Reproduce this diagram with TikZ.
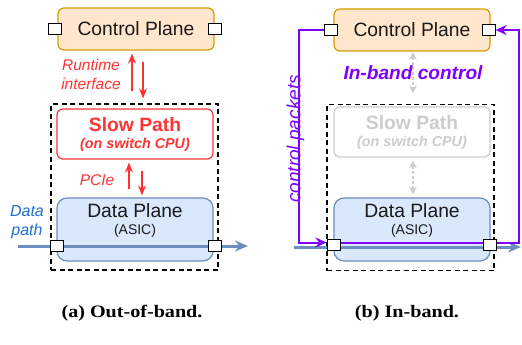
\documentclass[tikz,border=0pt]{standalone}
\usepackage{fontspec}
\setmainfont{Liberation Sans}
\newfontfamily\capfont[FakeStretch=1.15]{Liberation Serif}
\usetikzlibrary{arrows.meta,calc}

\definecolor{cpfill}{HTML}{FFE6CC}
\definecolor{cpline}{HTML}{D79B00}
\definecolor{slowred}{HTML}{FF3333}
\definecolor{dpfill}{HTML}{DAE8FC}
\definecolor{dpline}{HTML}{6C8EBF}
\definecolor{flow}{HTML}{6C8EBF}
\definecolor{datablue}{HTML}{1F6FD1}
\definecolor{ctlpurple}{HTML}{7F00FF}
\definecolor{ghost}{HTML}{CCCCCC}

\tikzset{
  box/.style={rounded corners=6pt, line width=1.2pt, minimum width=156pt, inner sep=0pt},
  cpbox/.style={box, draw=cpline, fill=cpfill, minimum height=42pt,
    font=\fontsize{19.3}{22}\selectfont, text=black!90},
  spbox/.style={box, fill=white, minimum height=50pt, align=center,
    font=\fontsize{14.3}{17}\selectfont},
  dpbox/.style={box, rounded corners=10pt, draw=dpline, fill=dpfill, minimum height=63pt},
  dptext/.style={anchor=north, align=center, inner sep=0pt, text=black!90,
    font=\fontsize{14}{17}\selectfont},
  port/.style={draw=black, fill=white, line width=1pt, minimum width=13pt,
    minimum height=11.5pt, inner sep=0pt},
  swbox/.style={draw=black, dash pattern=on 5pt off 3.5pt, line width=1.5pt,
    minimum width=167pt, minimum height=166pt, inner sep=0pt},
  rarr/.style={draw=slowred, line width=1.5pt, -{Stealth[length=10pt,width=8pt]}},
  garr/.style={draw=ghost, line width=1.5pt, dash pattern=on 3pt off 2pt,
    {Stealth[length=8pt,width=8pt]}-{Stealth[length=8pt,width=8pt]}},
  flowarr/.style={draw=flow, line width=3pt, -{Stealth[length=13pt,width=11pt]}},
  ctl/.style={draw=ctlpurple, line width=2pt},
  ctlarr/.style={ctl, -{Stealth[length=11pt,width=10pt]}},
  redlbl/.style={text=slowred, align=center, inner sep=0pt,
    font=\fontsize{15.5}{19}\selectfont\itshape},
  capt/.style={inner sep=0pt, font=\capfont\fontsize{17.5}{20}\selectfont\bfseries}
}

\begin{document}
\begin{tikzpicture}[x=1pt,y=-1pt]
\useasboundingbox (0,0) rectangle (522,345);

% ---------------- (a) out-of-band ----------------
\node[swbox] (swA) at (134.5,187) {};
\node[cpbox] (cpA) at (136,29) {Control Plane};
\node[port] (cpAl) at ([xshift=-2pt]cpA.west) {};
\node[port] (cpAr) at ([xshift=0.5pt]cpA.east) {};

\node[spbox, draw=slowred, text=slowred] (spA) at (135,134)
  {{\fontsize{19.3}{17}\selectfont\bfseries Slow Path}\\{\bfseries\itshape (on switch CPU)}};

\node[dpbox] (dpA) at (135,229.5) {};
\node[dptext] (dpAt) at ([yshift=-6pt]dpA.north)
  {{\fontsize{19.3}{17}\selectfont Data Plane}\\(ASIC)};

% runtime interface between control plane and slow path
\draw[rarr, shorten <=17pt, shorten >=3pt]
  ([xshift=-4pt]cpA.south |- spA.north) -- ([xshift=-4pt]cpA.south);
\draw[rarr, shorten <=11pt, shorten >=10pt]
  ([xshift=7pt]cpA.south) -- ([xshift=7pt]cpA.south |- spA.north);
\node[redlbl] (rtA) at (91,74.5) {Runtime\\interface};

% PCIe between slow path and data plane
\draw[rarr, shorten <=8pt, shorten >=3pt]
  ([xshift=-6pt]spA.south |- dpA.north) -- ([xshift=-6pt]spA.south);
\draw[rarr, shorten <=11pt, shorten >=2pt]
  ([xshift=7pt]spA.south) -- ([xshift=7pt]spA.south |- dpA.north);
\node[redlbl] (pcA) at (97,180) {PCIe};

% data path through the ASIC
\coordinate (inA) at (18,246);
\coordinate (outA) at (248,246);
\draw[flowarr] (inA) -- (outA);
\node[port] (dpAl) at (56.5,246) {};
\node[port] (dpAr) at (214.5,246) {};
\node[redlbl, text=datablue, font=\fontsize{16}{19}\selectfont\itshape] (dtA) at (27,222) {Data\\path};

\node[capt] (capA) at (132,313) {(a) Out-of-band.};

% ---------------- (b) in-band ----------------
\node[swbox] (swB) at (410.5,187.5) {};
\node[cpbox] (cpB) at (412,30) {Control Plane};
\node[port] (cpBl) at ([xshift=-2pt]cpB.west) {};
\node[port] (cpBr) at ([xshift=-2pt]cpB.east) {};

\node[spbox, draw=ghost, text=ghost] (spB) at (412,132)
  {{\fontsize{19.3}{17}\selectfont\bfseries Slow Path}\\{\bfseries\itshape (on switch CPU)}};

\node[dpbox] (dpB) at (412,229.5) {};
\node[dptext] (dpBt) at ([yshift=-6pt]dpB.north)
  {{\fontsize{19.3}{17}\selectfont Data Plane}\\(ASIC)};

% unused slow-path channels
\draw[garr, shorten <=0.5pt, shorten >=13pt]
  ([xshift=1pt]cpB.south) -- ([xshift=1pt]cpB.south |- spB.north);
\draw[garr, shorten <=3pt, shorten >=3pt]
  ([xshift=1pt]spB.south) -- ([xshift=1pt]spB.south |- dpB.north);
\node[inner sep=1pt, text=ctlpurple,
  font=\fontsize{19.1}{22}\selectfont\bfseries\itshape] (ibB) at (413,73) {In-band control};

% data path with control packets riding on it
\coordinate (inB) at (294,247);
\coordinate (outB) at (521,247);
\draw[flowarr] (inB) -- (outB);
\node[port] (dpBl) at (333.5,245) {};
\node[port] (dpBr) at (490,245) {};

\draw[ctlarr] (cpBl.west) -- ++(-25,0) |- ([yshift=2.5pt]dpBl.west);
\draw[ctl] ([yshift=2.5pt]dpBl.east) -- ([yshift=2.5pt]dpBr.west);
\draw[ctlarr] ([yshift=2.5pt]dpBr.east) -- ++(22,0) |- (cpBr.east);
% ports redrawn above the control loop
\node[port] (dpBlTop) at (dpBl) {};
\node[port] (dpBrTop) at (dpBr) {};
\node[port] (cpBlTop) at (cpBl) {};
\node[port] (cpBrTop) at (cpBr) {};

\node[rotate=90, inner sep=0pt, text=ctlpurple,
  font=\fontsize{19}{22}\selectfont\itshape] (cpkB) at (295.5,139) {control packets};

\node[capt] (capB) at (407,313) {(b) In-band.};
\end{tikzpicture}
\end{document}
